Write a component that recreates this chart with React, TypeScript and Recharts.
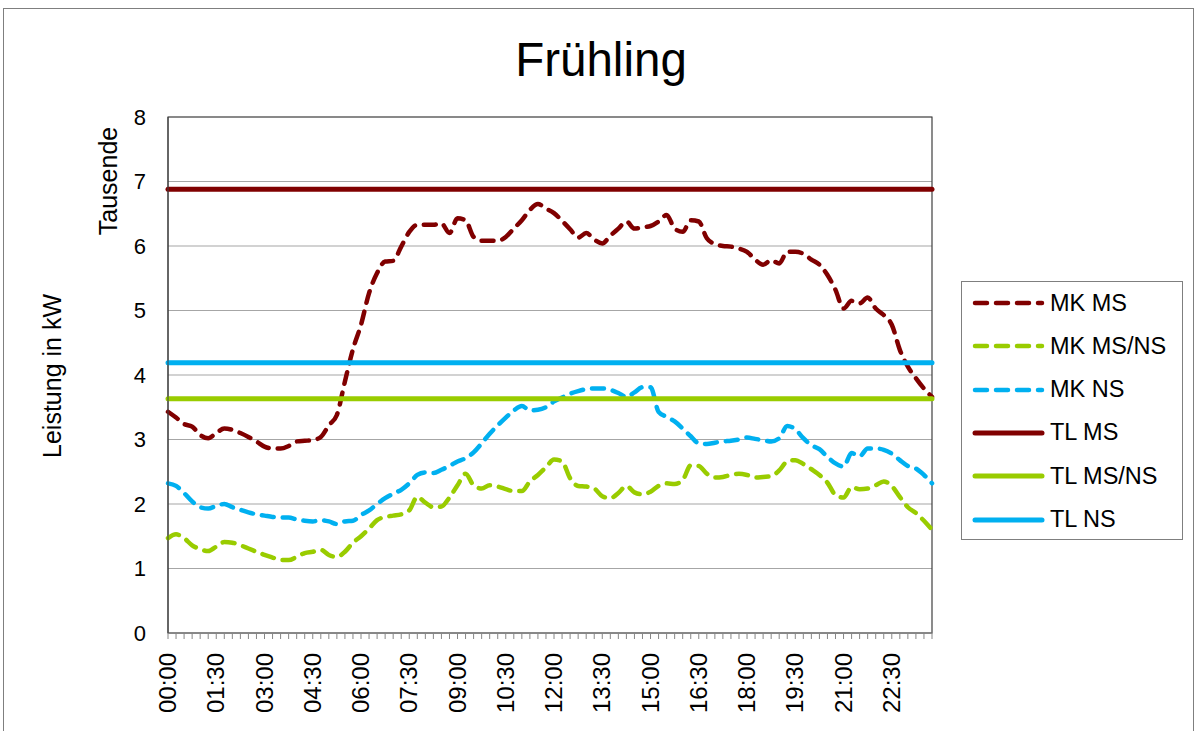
import React from 'react';
import { LineChart, Line, XAxis, YAxis, CartesianGrid, Legend, ReferenceArea } from 'recharts';

const FONT = '"Liberation Sans", Arial, sans-serif';

// 15-minute categories 00:00 .. 23:45
const TIMES: string[] = Array.from({ length: 96 }, (_, i) =>
  `${String(Math.floor(i / 4)).padStart(2, '0')}:${String((i % 4) * 15).padStart(2, '0')}`
);

// values in thousands of kW ("Tausende")
const MK_MS: number[] = [
  3.43, 3.34, 3.24, 3.20, 3.07, 3.02, 3.10, 3.17, 3.15, 3.10, 3.04, 2.97,
  2.89, 2.86, 2.86, 2.90, 2.97, 2.98, 2.99, 3.04, 3.22, 3.38, 3.90, 4.40,
  4.78, 5.27, 5.58, 5.76, 5.77, 5.99, 6.22, 6.33, 6.33, 6.33, 6.35, 6.20,
  6.43, 6.40, 6.14, 6.08, 6.08, 6.08, 6.14, 6.27, 6.40, 6.56, 6.65, 6.58,
  6.51, 6.39, 6.26, 6.13, 6.20, 6.10, 6.04, 6.16, 6.27, 6.38, 6.27, 6.29,
  6.31, 6.38, 6.48, 6.27, 6.22, 6.40, 6.38, 6.12, 6.03, 6.00, 5.99, 5.96,
  5.91, 5.79, 5.71, 5.78, 5.73, 5.91, 5.91, 5.88, 5.79, 5.71, 5.55, 5.32,
  5.03, 5.15, 5.11, 5.20, 5.03, 4.93, 4.78, 4.39, 4.13, 3.95, 3.79, 3.66,
];

const MK_MSNS: number[] = [
  1.47, 1.53, 1.47, 1.36, 1.30, 1.27, 1.34, 1.41, 1.40, 1.36, 1.31, 1.26,
  1.21, 1.17, 1.13, 1.13, 1.18, 1.24, 1.26, 1.29, 1.21, 1.18, 1.26, 1.40,
  1.50, 1.62, 1.75, 1.80, 1.82, 1.84, 1.90, 2.11, 2.02, 1.95, 1.96, 2.10,
  2.29, 2.47, 2.29, 2.24, 2.29, 2.27, 2.23, 2.20, 2.20, 2.35, 2.45, 2.57,
  2.69, 2.66, 2.40, 2.28, 2.27, 2.24, 2.12, 2.09, 2.17, 2.28, 2.18, 2.15,
  2.19, 2.28, 2.32, 2.31, 2.37, 2.60, 2.59, 2.47, 2.41, 2.42, 2.45, 2.47,
  2.45, 2.41, 2.42, 2.43, 2.52, 2.66, 2.68, 2.62, 2.54, 2.45, 2.33, 2.14,
  2.10, 2.26, 2.23, 2.24, 2.29, 2.35, 2.28, 2.11, 1.95, 1.86, 1.74, 1.60,
];

const MK_NS: number[] = [
  2.32, 2.28, 2.17, 2.04, 1.95, 1.93, 1.97, 2.00, 1.95, 1.91, 1.87, 1.84,
  1.82, 1.80, 1.79, 1.79, 1.76, 1.74, 1.73, 1.75, 1.73, 1.69, 1.73, 1.74,
  1.83, 1.90, 2.00, 2.09, 2.16, 2.22, 2.32, 2.45, 2.49, 2.48, 2.53, 2.59,
  2.66, 2.71, 2.80, 2.94, 3.09, 3.22, 3.34, 3.45, 3.52, 3.45, 3.46, 3.50,
  3.59, 3.65, 3.71, 3.75, 3.78, 3.79, 3.79, 3.77, 3.72, 3.66, 3.73, 3.81,
  3.81, 3.43, 3.35, 3.28, 3.17, 3.05, 2.94, 2.93, 2.95, 2.97, 2.98, 3.00,
  3.03, 3.01, 2.99, 2.97, 3.02, 3.21, 3.16, 3.02, 2.91, 2.85, 2.73, 2.63,
  2.58, 2.79, 2.74, 2.86, 2.86, 2.84, 2.78, 2.68, 2.59, 2.55, 2.45, 2.32,
];

// limits (constant per series)
const TL_MS = 6.88;
const TL_MSNS = 3.63;
const TL_NS = 4.19;

const Y_TICKS = [0, 1, 2, 3, 4, 5, 6, 7, 8];

const COLOR_MS = '#800000';
const COLOR_MSNS = '#99CC00';
const COLOR_NS = '#00B0F0';

const SERIES = [
  { key: 'mkMS', name: 'MK MS', color: COLOR_MS, dashed: true },
  { key: 'mkMSNS', name: 'MK MS/NS', color: COLOR_MSNS, dashed: true },
  { key: 'mkNS', name: 'MK NS', color: COLOR_NS, dashed: true },
  { key: 'tlMS', name: 'TL MS', color: COLOR_MS, dashed: false },
  { key: 'tlMSNS', name: 'TL MS/NS', color: COLOR_MSNS, dashed: false },
  { key: 'tlNS', name: 'TL NS', color: COLOR_NS, dashed: false },
];

const data = TIMES.map((t, i) => ({
  time: t,
  mkMS: MK_MS[i],
  mkMSNS: MK_MSNS[i],
  mkNS: MK_NS[i],
  tlMS: TL_MS,
  tlMSNS: TL_MSNS,
  tlNS: TL_NS,
}));

const DASH = '12 9';

const XTick = (props: any) => {
  const { x, y, payload, index } = props;
  if (index % 6 !== 0) return <g />;
  return (
    <text
      transform={`translate(${x + 8},${y}) rotate(-90)`}
      textAnchor="end"
      fontSize={24}
      fontFamily={FONT}
      fill="#000"
    >
      {payload.value}
    </text>
  );
};

const LegendBox = () => (
  <div
    style={{
      width: 222,
      height: 259,
      boxSizing: 'border-box',
      border: '1px solid #7f7f7f',
      background: '#fff',
      position: 'relative',
      fontFamily: FONT,
    }}
  >
    {SERIES.map((s, k) => (
      <div
        key={s.key}
        style={{
          position: 'absolute',
          left: 9,
          top: 21 + k * 43.3 - 14,
          height: 28,
          display: 'flex',
          alignItems: 'center',
          whiteSpace: 'nowrap',
        }}
      >
        <svg width={76} height={12} style={{ display: 'block' }}>
          <line
            x1={4}
            y1={6}
            x2={71}
            y2={6}
            stroke={s.color}
            strokeWidth={s.dashed ? 4.5 : 5}
            strokeDasharray={s.dashed ? DASH : undefined}
            strokeLinecap="round"
          />
        </svg>
        <span style={{ fontSize: 23.5, color: '#000', marginLeft: 3 }}>{s.name}</span>
      </div>
    ))}
  </div>
);

export default function App() {
  return (
    <div
      style={{
        position: 'absolute',
        left: 0,
        top: 0,
        width: 1197,
        height: 731,
        background: '#fff',
        overflow: 'hidden',
        fontFamily: FONT,
      }}
    >
      <div
        style={{
          position: 'absolute',
          left: 3,
          top: 8,
          width: 1189,
          height: 740,
          border: '1px solid #7f7f7f',
        }}
      />
      <div style={{ position: 'absolute', left: 0, top: 0 }}>
        <LineChart
          width={1197}
          height={731}
          data={data}
          margin={{ top: 117, right: 43, bottom: 28, left: 108 }}
        >
          <CartesianGrid vertical={false} stroke="#a6a6a6" strokeWidth={1.2} />
          <ReferenceArea
            x1={TIMES[0]}
            x2={TIMES[TIMES.length - 1]}
            y1={0}
            y2={8}
            fill="none"
            stroke="#404040"
            strokeWidth={1.2}
            fillOpacity={0}
          />
          <XAxis
            dataKey="time"
            interval={0}
            tick={<XTick />}
            tickSize={6}
            tickMargin={14}
            height={70}
            stroke="#868686"
            tickLine={{ stroke: '#868686' }}
            padding={{ left: 0, right: 0 }}
          />
          <YAxis
            domain={[0, 8]}
            ticks={Y_TICKS}
            width={60}
            tickLine={false}
            axisLine={{ stroke: '#404040' }}
            tickSize={8}
            tickMargin={14}
            tick={{ fontSize: 22, fill: '#000', fontFamily: FONT }}
          />
          <Legend
            layout="vertical"
            align="right"
            verticalAlign="top"
            content={<LegendBox />}
            wrapperStyle={{ left: 961, top: 281, width: 222, height: 259 }}
          />
          {SERIES.map((s) => (
            <Line
              key={s.key}
              dataKey={s.key}
              name={s.name}
              type={s.dashed ? 'monotone' : 'linear'}
              stroke={s.color}
              strokeWidth={s.dashed ? 4.5 : 5}
              strokeDasharray={s.dashed ? DASH : undefined}
              strokeLinecap="round"
              dot={false}
              activeDot={false}
              isAnimationActive={false}
            />
          ))}
        </LineChart>
      </div>
      <svg
        width={1197}
        height={731}
        style={{ position: 'absolute', left: 0, top: 0, pointerEvents: 'none' }}
      >
        <text x={601} y={76} textAnchor="middle" fontSize={47.5} fontFamily={FONT} fill="#000">
          Frühling
        </text>
        <text
          transform="translate(52,376) rotate(-90)"
          textAnchor="middle"
          dominantBaseline="central"
          fontSize={25}
          fontFamily={FONT}
          fill="#000"
        >
          Leistung in kW
        </text>
        <text
          transform="translate(108,181) rotate(-90)"
          textAnchor="middle"
          dominantBaseline="central"
          fontSize={25}
          fontFamily={FONT}
          fill="#000"
        >
          Tausende
        </text>
      </svg>
    </div>
  );
}
